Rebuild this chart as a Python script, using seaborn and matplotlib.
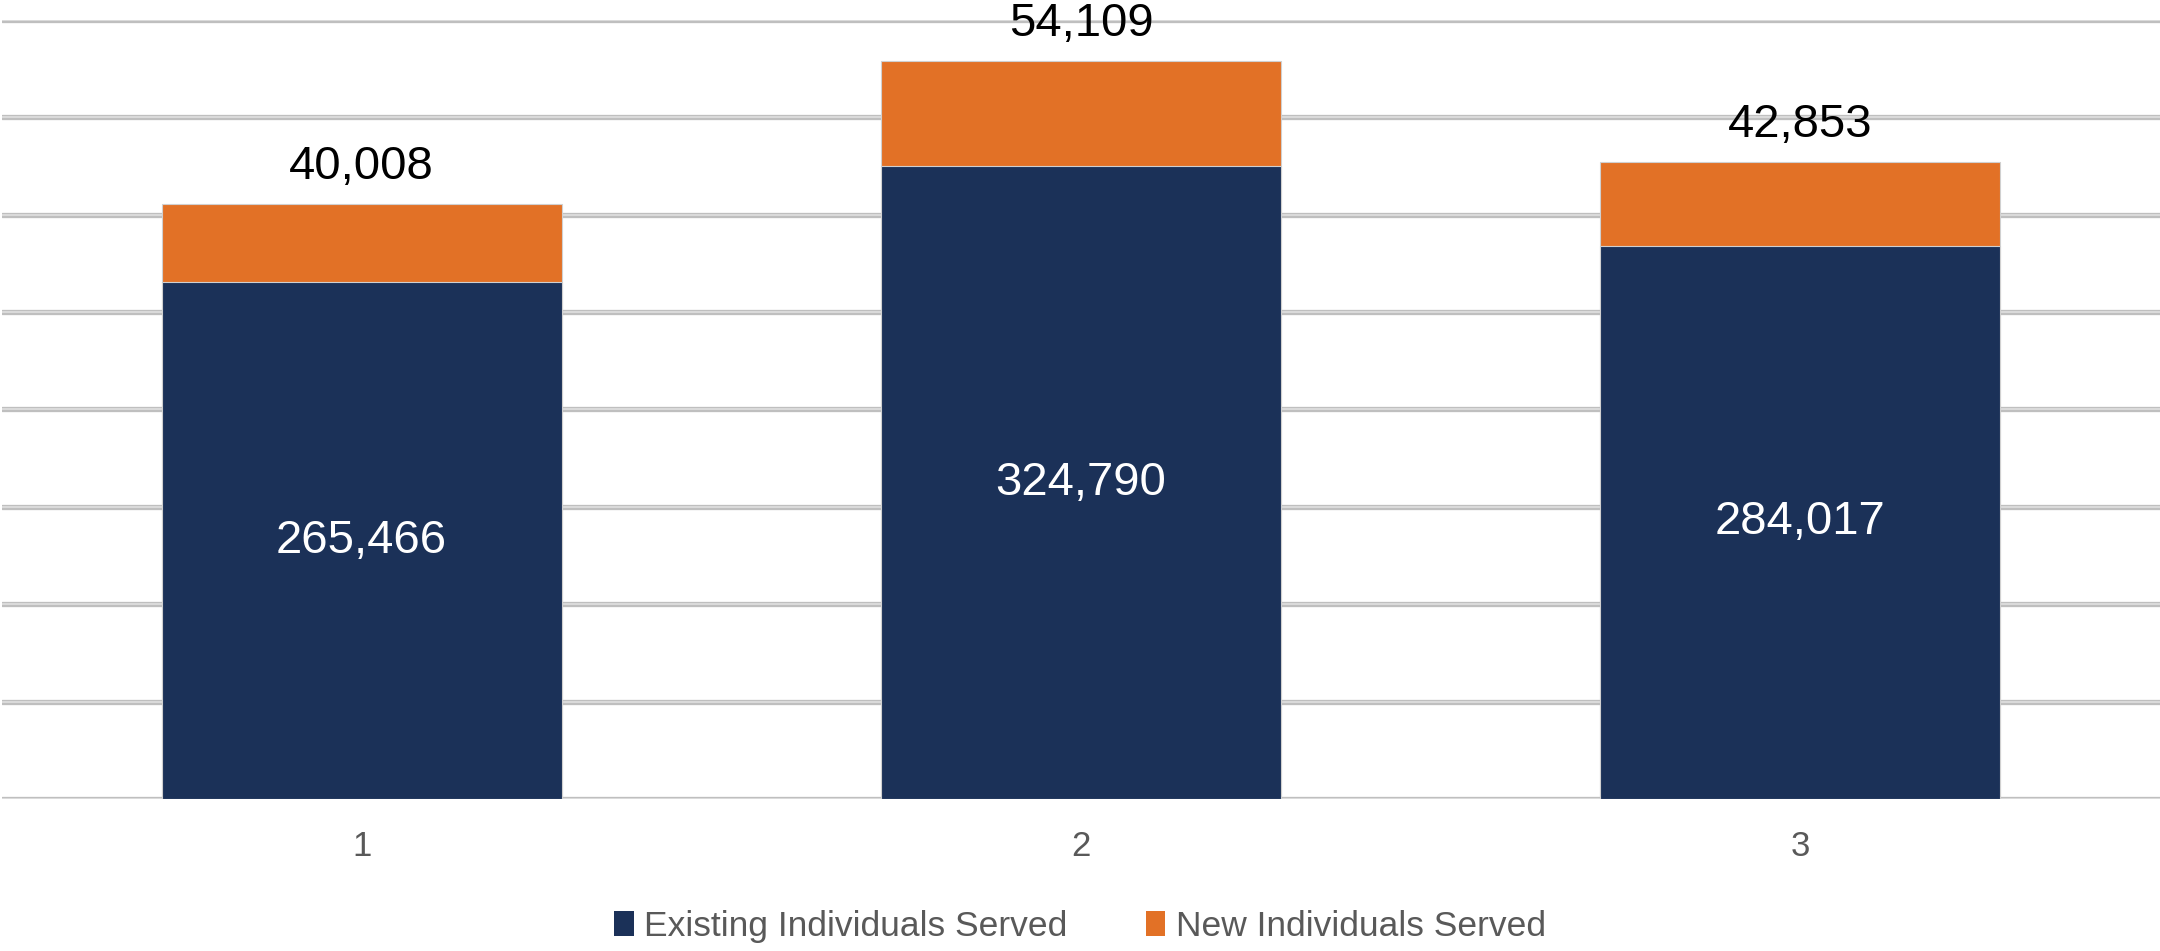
import numpy as np
import matplotlib.pyplot as plt
import seaborn as sns
import pandas as pd
from matplotlib.patches import Patch

sns.set_theme()
sns.set_style("white")
plt.rcParams['font.family'] = ['Liberation Sans', 'DejaVu Sans']

categories = ["1", "2", "3"]
existing = [265466, 324790, 284017]
new = [40008, 54109, 42853]
series_names = ["Existing Individuals Served", "New Individuals Served"]

navy = "#1b3158"
orange = "#e27126"
grey_text = "#595959"

total = np.array(existing) + np.array(new)
df = pd.DataFrame({"cat": categories, "existing": existing, "new": new, "total": total})

fig = plt.figure(figsize=(21.6, 9.51), dpi=100)
ax = fig.add_axes([2 / 2160, 1 - 799 / 951, 2158 / 2160, (799 - 20) / 951])

# orange = full stack, navy drawn over it
sns.barplot(data=df, x="cat", y="total", color=orange, saturation=1, width=0.556,
            edgecolor="#d0d0d0", linewidth=0.8, ax=ax, zorder=3)
sns.barplot(data=df, x="cat", y="existing", color=navy, saturation=1, width=0.556,
            edgecolor="#d0d0d0", linewidth=0.8, ax=ax, zorder=4)

ax.set_xlim(-0.5, 2.5)
ax.set_ylim(0, 400000)
ax.set_yticks(np.arange(0, 400001, 50000))
ax.set_yticklabels([])
ax.tick_params(axis="y", length=0)
ax.tick_params(axis="x", length=0, pad=22, labelsize=25, labelcolor=grey_text)
ax.set_xlabel("")
ax.set_ylabel("")
for s in ax.spines.values():
    s.set_visible(False)

# grey gridlines with a lighter core, like the original
for v in np.arange(0, 400001, 50000):
    ax.axhline(v, color="#bfbfbf", lw=3.8, zorder=1, solid_capstyle="round")
    ax.axhline(v, color="#e0e0e0", lw=1.2, zorder=1.5)

for i, c in enumerate(categories):
    ax.text(i, existing[i] / 2, f"{existing[i]:,}", ha="center", va="center",
            color="white", fontsize=34, zorder=5)
    ax.annotate(f"{new[i]:,}", xy=(i, total[i]), xytext=(0, 27), textcoords="offset points",
                ha="center", va="center", fontsize=34, color="black", zorder=5,
                annotation_clip=False)

handles = [Patch(facecolor=navy, edgecolor="none"), Patch(facecolor=orange, edgecolor="none")]
fig.legend(handles, series_names, loc="center", bbox_to_anchor=(0.5, 0.026), ncol=2,
           frameon=False, fontsize=25.5, labelcolor=grey_text, handlelength=0.55,
           handleheight=0.7, handletextpad=0.3, columnspacing=2.2)

fig.savefig("out.png", dpi=100)
